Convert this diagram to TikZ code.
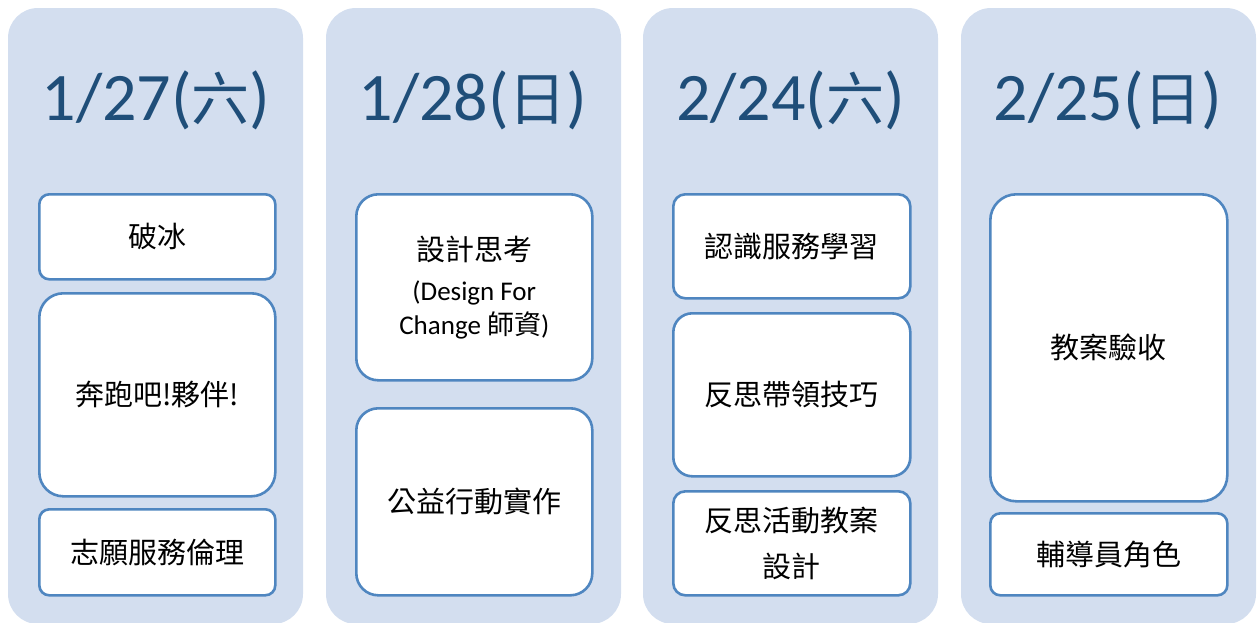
\documentclass[tikz,border=0pt]{standalone}
\usepackage{fontspec}
\setmainfont{Carlito}
\newfontfamily\cjk{Noto Sans CJK TC}
\definecolor{colbg}{HTML}{D3DEEF}
\definecolor{boxline}{HTML}{4F86C0}
\definecolor{titleblue}{HTML}{1F4E79}
\tikzset{
  colbox/.style={fill=colbg, draw=none, rounded corners=30pt},
  itembox/.style={fill=white, draw=boxline, line width=2.6pt, anchor=north west, align=center, inner sep=0pt, font=\cjk\fontsize{29}{36}\selectfont},
  title/.style={text=titleblue, font=\fontsize{68}{74}\selectfont, anchor=center}
}
\begin{document}
\begin{tikzpicture}[x=1pt,y=-1pt]
\useasboundingbox (0,0) rectangle (1257,622);
\begin{scope}
\clip (0,0) rectangle (1257,622);
\foreach \x in {8,326,643,961}{
  \fill[colbg, rounded corners=30pt] (\x,8) rectangle ++(295,616);
}
\end{scope}
% titles
\node[title] (t1) at (156,100) {1/27({\cjk\fontsize{58}{60}\selectfont 六})};
\node[title] (t2) at (473,100) {1/28({\cjk\fontsize{58}{60}\selectfont 日})};
\node[title] (t3) at (790.5,100) {2/24({\cjk\fontsize{58}{60}\selectfont 六})};
\node[title] (t4) at (1108,100) {2/25({\cjk\fontsize{58}{60}\selectfont 日})};
% column 1
\node[itembox, rounded corners=10pt, minimum width=236pt, minimum height=85pt] (a1) at (38,193) {破冰};
\node[itembox, rounded corners=24pt, minimum width=236pt, minimum height=203pt] (a2) at (38,292) {奔跑吧!夥伴!};
\node[itembox, rounded corners=10pt, minimum width=236pt, minimum height=86pt] (a3) at (38,508) {志願服務倫理};
% column 2
\node[itembox, rounded corners=22pt, minimum width=236pt, minimum height=186pt] (b1) at (355,193) {設計思考\\[4pt]{\fontsize{27}{33}\selectfont\rmfamily (Design For}\\[-2pt]{\fontsize{27}{33}\selectfont\rmfamily Change {\cjk 師資})}};
\node[itembox, rounded corners=22pt, minimum width=236pt, minimum height=187pt] (b2) at (355,407) {公益行動實作};
% column 3
\node[itembox, rounded corners=12pt, minimum width=237pt, minimum height=104pt] (c1) at (672,193) {認識服務學習};
\node[itembox, rounded corners=19pt, minimum width=237pt, minimum height=163pt] (c2) at (672,312) {反思帶領技巧};
\node[itembox, rounded corners=12pt, minimum width=237pt, minimum height=104pt] (c3) at (672,490) {反思活動教案\\[10pt]設計};
% column 4
\node[itembox, rounded corners=26pt, minimum width=237pt, minimum height=307pt] (d1) at (989,193) {教案驗收};
\node[itembox, rounded corners=10pt, minimum width=237pt, minimum height=82pt] (d2) at (989,512) {輔導員角色};
\end{tikzpicture}
\end{document}
